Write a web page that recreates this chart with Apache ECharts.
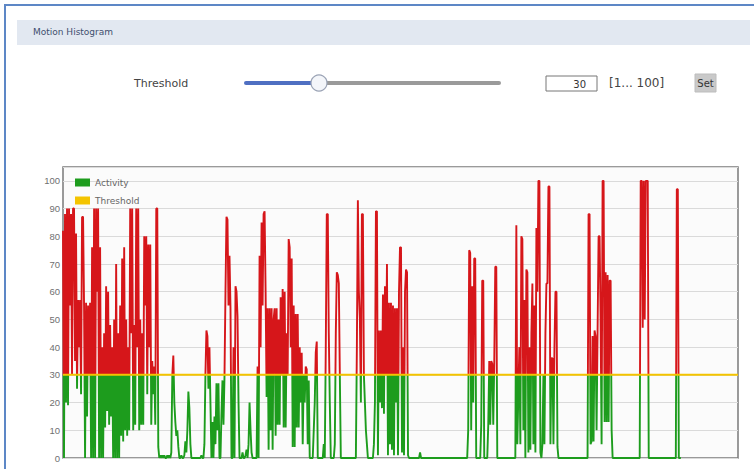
<!DOCTYPE html>
<html>
<head>
<meta charset="utf-8">
<title>Motion Histogram</title>
<script src="https://cdn.jsdelivr.net/npm/echarts@6/dist/echarts.min.js"></script>
<style>
  html, body { margin: 0; padding: 0; background: #ffffff; }
  #chart { width: 754px; height: 469px; }
</style>
</head>
<body>
<div id="chart"></div>
<script>
// Motion activity samples (percent), one per time slot, oldest first
const activity = [
  82, 0, 88, 20, 90, 19, 90, 55, 88, 30,
  90, 90, 35, 81, 25, 57, 40, 57, 23, 87,
  87, 55, 0, 56, 15, 55, 30, 56, 0, 76,
  0, 90, 0, 90, 60, 90, 0, 76, 0, 40,
  0, 45, 11, 62, 17, 60, 12, 48, 15, 40,
  0, 50, 0, 70, 0, 45, 0, 55, 8, 72,
  6, 76, 10, 50, 8, 40, 10, 90, 45, 90,
  10, 48, 12, 90, 40, 90, 10, 50, 12, 45,
  12, 80, 55, 80, 23, 77, 40, 77, 12, 35,
  23, 33, 12, 90, 90, 4, 0, 1, 0, 1,
  0, 1, 0, 0, 1, 0, 1, 0, 2, 30,
  37, 20, 13, 8, 10, 4, 0, 0, 1, 0,
  0, 1, 6, 2, 10, 24, 18, 5, 0, 0,
  0, 0, 0, 0, 0, 0, 0, 0, 1, 0,
  0, 5, 30, 46, 44, 25, 40, 20, 0, 13,
  0, 15, 5, 27, 10, 27, 0, 0, 16, 28,
  12, 29, 60, 87, 86, 55, 73, 54, 0, 0,
  40, 0, 62, 60, 51, 20, 0, 0, 0, 2,
  0, 0, 1, 3, 0, 5, 20, 10, 2, 0,
  0, 0, 0, 0, 33, 0, 73, 40, 85, 55,
  88, 89, 60, 22, 54, 3, 54, 10, 54, 3,
  50, 54, 8, 54, 12, 50, 12, 58, 30, 61,
  11, 60, 11, 45, 30, 79, 76, 40, 72, 4,
  55, 4, 52, 11, 52, 11, 40, 20, 38, 5,
  30, 20, 33, 32, 5, 28, 0, 0, 0, 0,
  10, 20, 38, 42, 0, 0, 0, 0, 0, 0,
  5, 0, 40, 88, 88, 45, 20, 0, 0, 0,
  0, 5, 45, 67, 66, 63, 30, 0, 0, 0,
  0, 0, 0, 0, 0, 0, 0, 0, 0, 0,
  0, 0, 0, 40, 93, 60, 50, 20, 88, 88,
  30, 20, 10, 5, 0, 0, 0, 0, 0, 0,
  5, 20, 89, 89, 1, 46, 20, 46, 18, 59,
  16, 62, 30, 70, 1, 56, 5, 56, 3, 55,
  1, 54, 20, 54, 1, 60, 76, 76, 2, 40,
  1, 60, 68, 67, 1, 0, 0, 0, 0, 0,
  0, 0, 0, 0, 0, 0, 2, 0, 0, 0,
  0, 0, 0, 0, 0, 0, 0, 0, 0, 0,
  0, 0, 0, 0, 0, 0, 0, 0, 0, 0,
  0, 0, 0, 0, 0, 0, 0, 0, 0, 0,
  0, 0, 0, 0, 0, 0, 0, 0, 0, 0,
  0, 0, 0, 0, 10, 75, 74, 10, 62, 20,
  72, 72, 0, 0, 0, 0, 0, 12, 64, 64,
  0, 0, 0, 0, 12, 35, 12, 35, 34, 12,
  35, 69, 69, 0, 0, 0, 0, 0, 0, 0,
  0, 0, 0, 0, 0, 0, 0, 0, 0, 0,
  0, 0, 84, 5, 23, 40, 5, 80, 79, 10,
  57, 0, 68, 67, 2, 40, 3, 45, 63, 5,
  55, 2, 83, 60, 100, 100, 2, 0, 5, 30,
  5, 45, 63, 63, 98, 98, 5, 36, 36, 5,
  40, 60, 60, 4, 0, 0, 0, 0, 0, 0,
  0, 0, 0, 0, 0, 0, 0, 0, 0, 0,
  0, 0, 0, 0, 0, 0, 0, 0, 0, 0,
  0, 0, 0, 0, 88, 88, 5, 6, 44, 6,
  46, 44, 10, 46, 80, 80, 50, 5, 100, 100,
  13, 67, 13, 66, 13, 64, 64, 10, 0, 0,
  0, 0, 0, 0, 0, 0, 0, 0, 0, 0,
  0, 0, 0, 0, 0, 0, 0, 0, 0, 0,
  0, 0, 0, 0, 0, 0, 100, 100, 47, 100,
  50, 100, 100, 100, 0, 0, 0, 0, 0, 0,
  0, 0, 0, 0, 0, 0, 0, 0, 0, 0,
  0, 0, 0, 0, 0, 0, 0, 0, 0, 0,
  0, 0, 97, 97, 0, 0, 0
];

// Width of the time window in slots (the recording has not filled it yet)
const windowSize = 674;
const slots = Array.from({ length: windowSize }, (_, i) => i);

// Alarm threshold and its allowed range
const threshold = 30;
const thresholdRange = [1, 100];

// Y axis ticks
const yTicks = [0, 10, 20, 30, 40, 50, 60, 70, 80, 90, 100];
const yMax = 105;

const RED = '#d6161a';
const GREEN = '#1d9c1d';
const YELLOW = '#f4c400';

const chart = echarts.init(document.getElementById('chart'), null, { renderer: 'svg' });

const uiFont = '"DejaVu Sans", Verdana, sans-serif';
const axisFont = '"Liberation Sans", Arial, sans-serif';

chart.setOption({
  backgroundColor: '#ffffff',
  animation: false,
  textStyle: { fontFamily: uiFont },
  grid: {
    left: 63, top: 167, right: 16, bottom: 11,
    show: true,
    backgroundColor: '#fbfbfb',
    borderColor: '#7a7a7a',
    borderWidth: 1.5
  },
  legend: {
    orient: 'vertical',
    left: 70, top: 173,
    itemWidth: 15, itemHeight: 8, itemGap: 9,
    icon: 'rect',
    textStyle: { fontSize: 9, color: '#666', fontFamily: uiFont },
    data: ['Activity', 'Threshold']
  },
  xAxis: {
    type: 'category',
    data: slots,
    boundaryGap: false,
    axisLine: { show: false },
    axisTick: { show: false },
    axisLabel: { show: false },
    splitLine: { show: false }
  },
  yAxis: {
    type: 'value',
    min: yTicks[0],
    max: yMax,
    interval: yTicks[1] - yTicks[0],
    axisLine: { show: false },
    axisTick: { show: false },
    axisLabel: {
      fontSize: 9.5, color: '#707070', margin: 3, fontFamily: axisFont,
      formatter: v => (yTicks.indexOf(v) >= 0 ? String(v) : '')
    },
    splitLine: { lineStyle: { color: '#dadada', width: 1 } }
  },
  // activity at or below the threshold is green, above it red
  visualMap: [{
    show: false, type: 'piecewise', dimension: 1, seriesIndex: 0,
    pieces: [
      { gte: -yMax, lte: threshold, color: GREEN },
      { gt: threshold, lte: yMax, color: RED }
    ],
    outOfRange: { color: RED }
  }],
  series: [
    {
      name: 'Activity',
      type: 'line',
      data: activity,
      color: GREEN,
      showSymbol: false,
      symbol: 'none',
      lineStyle: { width: 1.9 },
      z: 2
    },
    {
      name: 'Threshold',
      type: 'line',
      color: YELLOW,
      data: [[0, threshold], [windowSize - 1, threshold]],
      showSymbol: false,
      symbol: 'none',
      lineStyle: { width: 2, color: YELLOW },
      z: 4
    }
  ],
  graphic: [
    // panel frame
    { type: 'rect', shape: { x: 5, y: 5, width: 800, height: 500 },
      style: { fill: 'none', stroke: '#5d87c6', lineWidth: 2 }, silent: true },
    // panel title bar
    { type: 'rect', shape: { x: 17, y: 20, width: 733, height: 25 },
      style: { fill: '#e2e8f1' }, silent: true },
    { type: 'text', x: 33, y: 32,
      style: { text: 'Motion Histogram', fill: '#3f4f6e', font: '9px ' + uiFont, textVerticalAlign: 'middle' } },
    // threshold control row
    { type: 'text', x: 134, y: 83,
      style: { text: 'Threshold', fill: '#444', font: '11px ' + uiFont, textVerticalAlign: 'middle' } },
    { type: 'line', shape: { x1: 320, y1: 83, x2: 499, y2: 83 },
      style: { stroke: '#9a9a9a', lineWidth: 4, lineCap: 'round' } },
    { type: 'line', shape: { x1: 246, y1: 83, x2: 316, y2: 83 },
      style: { stroke: '#4f6fc2', lineWidth: 4, lineCap: 'round' } },
    { type: 'circle', shape: { cx: 319, cy: 83, r: 8 },
      style: { fill: '#f4f6fa', stroke: '#9aa3b5', lineWidth: 1.2 } },
    { type: 'rect', shape: { x: 546, y: 76, width: 51, height: 15 },
      style: { fill: '#ffffff', stroke: '#777', lineWidth: 1 } },
    { type: 'text', x: 586, y: 84,
      style: { text: String(threshold), fill: '#333', font: '10px ' + uiFont, textAlign: 'right', textVerticalAlign: 'middle' } },
    { type: 'text', x: 609, y: 83,
      style: { text: '[' + thresholdRange[0] + '... ' + thresholdRange[1] + ']', fill: '#444', font: '12px ' + uiFont, textVerticalAlign: 'middle' } },
    { type: 'rect', shape: { x: 695, y: 74, width: 21, height: 18 },
      style: { fill: '#c9c9c9', stroke: '#bdbdbd', lineWidth: 1 } },
    { type: 'text', x: 705.5, y: 83,
      style: { text: 'Set', fill: '#333', font: '10px ' + uiFont, textAlign: 'center', textVerticalAlign: 'middle' } }
  ]
});
</script>
</body>
</html>
